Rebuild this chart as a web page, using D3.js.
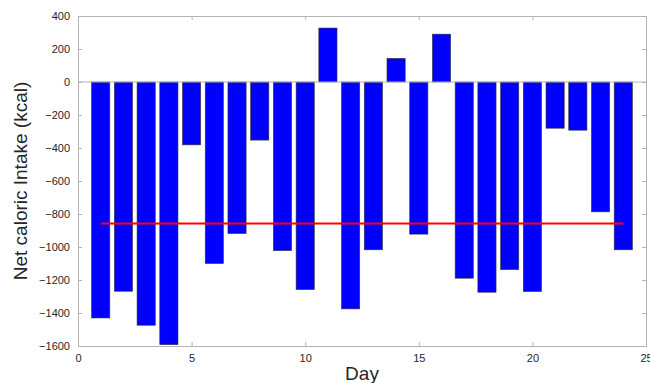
<!DOCTYPE html>
<html>
<head>
<meta charset="utf-8">
<script src="https://cdn.jsdelivr.net/npm/d3@7"></script>
<style>
  body { margin: 0; background: #fff; }
  .axis text { font-family: "Liberation Sans", Arial, sans-serif; font-size: 11px; fill: #262626; }
  .axis path, .axis line { stroke: #b3b3b3; }
</style>
</head>
<body>
<div id="wrapper"></div>
<script>
const days = [1,2,3,4,5,6,7,8,9,10,11,12,13,14,15,16,17,18,19,20,21,22,23,24]
const netIntake = [-1430,-1268,-1474,-1592,-381,-1100,-918,-352,-1022,-1258,327,-1375,
                   -1017,143,-922,290,-1189,-1274,-1137,-1270,-280,-292,-787,-1017]
const meanIntake = -858
const xTicks = [0,5,10,15,20,25]
const yTicks = [-1600,-1400,-1200,-1000,-800,-600,-400,-200,0,200,400]

let dimensions = {
    width: 650,
    height: 383,
    margin: { top: 16, right: 4, bottom: 37, left: 78 }
}
dimensions.boundWidth = dimensions.width - dimensions.margin.left - dimensions.margin.right
dimensions.boundHeight = dimensions.height - dimensions.margin.top - dimensions.margin.bottom

const wrapper = d3.select('#wrapper')
    .append('svg')
    .attr('width', dimensions.width)
    .attr('height', dimensions.height)

const bounds = wrapper.append('g')
    .attr('transform', `translate(${dimensions.margin.left},${dimensions.margin.top})`)

const xScale = d3.scaleLinear()
    .domain([0, 25])
    .range([0, dimensions.boundWidth])

const yScale = d3.scaleLinear()
    .domain([-1600, 400])
    .range([dimensions.boundHeight, 0])

const barWidth = xScale(0.8) - xScale(0)

// bars
bounds.selectAll('rect.bar')
    .data(days)
    .join('rect')
    .attr('class', 'bar')
    .attr('x', (d, i) => xScale(d) - barWidth / 2)
    .attr('y', (d, i) => yScale(Math.max(0, netIntake[i])))
    .attr('width', barWidth)
    .attr('height', (d, i) => Math.abs(yScale(netIntake[i]) - yScale(0)))
    .attr('fill', '#0000ff')
    .attr('stroke', '#333')
    .attr('stroke-width', 0.6)

// baseline at zero
bounds.append('line')
    .attr('x1', 0).attr('x2', dimensions.boundWidth)
    .attr('y1', yScale(0)).attr('y2', yScale(0))
    .attr('stroke', '#b3b3b3')

// mean line
bounds.append('line')
    .attr('x1', xScale(days[0])).attr('x2', xScale(days[days.length - 1]))
    .attr('y1', yScale(meanIntake)).attr('y2', yScale(meanIntake))
    .attr('stroke', '#ff0000')
    .attr('stroke-width', 2)

// axes (matlab box style, ticks inside)
const xAxis = bounds.append('g')
    .attr('class', 'axis')
    .attr('transform', `translate(0,${dimensions.boundHeight})`)
    .call(d3.axisBottom(xScale).tickValues(xTicks).tickSize(-4).tickPadding(8).tickSizeOuter(0))

const xTop = bounds.append('g')
    .attr('class', 'axis')
    .call(d3.axisTop(xScale).tickValues(xTicks).tickSize(-4).tickSizeOuter(0).tickFormat(''))

const yAxis = bounds.append('g')
    .attr('class', 'axis')
    .call(d3.axisLeft(yScale).tickValues(yTicks).tickSize(-4).tickPadding(8).tickSizeOuter(0).tickFormat(d3.format('d')))

const yRight = bounds.append('g')
    .attr('class', 'axis')
    .attr('transform', `translate(${dimensions.boundWidth},0)`)
    .call(d3.axisRight(yScale).tickValues(yTicks).tickSize(-4).tickSizeOuter(0).tickFormat(''))

// labels
wrapper.append('text')
    .attr('x', dimensions.margin.left + dimensions.boundWidth / 2)
    .attr('y', 380)
    .attr('text-anchor', 'middle')
    .style('font-family', '"Liberation Sans", Arial, sans-serif')
    .style('font-size', '19px')
    .style('fill', '#262626')
    .text('Day')

wrapper.append('text')
    .attr('transform', `translate(27,${dimensions.margin.top + dimensions.boundHeight / 2}) rotate(-90)`)
    .attr('text-anchor', 'middle')
    .style('font-family', '"Liberation Sans", Arial, sans-serif')
    .style('font-size', '19px')
    .style('fill', '#262626')
    .text('Net caloric Intake (kcal)')
</script>
</body>
</html>
